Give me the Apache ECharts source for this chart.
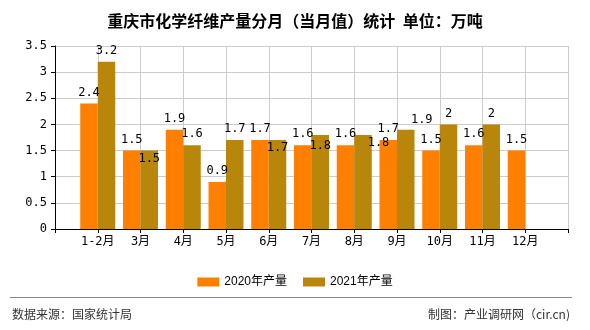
<!DOCTYPE html>
<html>
<head>
<meta charset="utf-8">
<script src="https://cdn.jsdelivr.net/npm/echarts@6/dist/echarts.min.js"></script>
<style>html,body{margin:0;padding:0;background:#fff}#c{width:590px;height:330px}</style>
</head>
<body>
<div id="c"></div>
<script>
// ---- data ----
var categories = ['1-2月','3月','4月','5月','6月','7月','8月','9月','10月','11月','12月'];
var series2020 = [2.4,1.5,1.9,0.9,1.7,1.6,1.6,1.7,1.5,1.6,1.5];
var series2021 = [3.2,1.5,1.6,1.7,1.7,1.8,1.8,1.9,2,2,null];
var seriesNames = ['2020年产量','2021年产量'];
var yTicks = [0,0.5,1,1.5,2,2.5,3,3.5];
var titleText = '重庆市化学纤维产量分月（当月值）统计  单位：万吨';
var sourceText = '数据来源：国家统计局';
var makerText = '制图：产业调研网（cir.cn)';

// ---- styles / label adjustments (by category index, 2021 series) ----
var insideLabels2021 = {1: true, 4: true};
var movedLabels2021 = {5: [0, 22], 6: [15.5, 19], 7: [16, 1]};

var monoFont = "'DejaVu Sans Mono','Noto Sans CJK SC',monospace";
var cats = [''].concat(categories, ['']);
function pad(arr){ return [null].concat(arr, [null]); }

var d2021 = pad(series2021).map(function(v, i){
  var ci = i - 1;
  if (insideLabels2021[ci]) return {value: v, label: {position: 'insideTop', distance: 2}};
  return v;
});

var chart = echarts.init(document.getElementById('c'));
chart.setOption({
  animation: false,
  backgroundColor: '#fff',
  title: {
    text: titleText, left: 'center', top: 8,
    textStyle: {fontSize: 16, fontWeight: 'bold', color: '#000', fontFamily: "'Noto Sans CJK SC'"}
  },
  legend: {
    data: seriesNames, left: 'center', top: 271,
    itemWidth: 22, itemHeight: 9, itemGap: 16,
    icon: 'rect',
    textStyle: {fontSize: 12, color: '#000', fontFamily: "'Liberation Sans','Noto Sans CJK SC'"}
  },
  grid: {left: 55, right: 22, top: 46, bottom: 101},
  xAxis: {
    type: 'category', data: cats, boundaryGap: false,
    axisLine: {lineStyle: {color: '#000', width: 1}},
    axisTick: {show: true, length: 4, interval: 0, lineStyle: {color: '#000'}},
    axisLabel: {interval: 0, margin: 7, color: '#000', fontSize: 12, fontFamily: monoFont},
    splitLine: {show: true, interval: 0, lineStyle: {color: '#cccccc', width: 1}}
  },
  yAxis: {
    type: 'value', min: yTicks[0], max: yTicks[yTicks.length-1], interval: 0.5,
    axisLine: {show: true, lineStyle: {color: '#000', width: 1}},
    axisTick: {show: true, length: 4, lineStyle: {color: '#000'}},
    axisLabel: {margin: 8, color: '#000', fontSize: 12, fontFamily: monoFont},
    splitLine: {show: true, lineStyle: {color: '#cccccc', width: 1}}
  },
  series: [
    {
      name: seriesNames[0], type: 'bar', data: pad(series2020),
      barWidth: 17.5, barGap: '0%',
      itemStyle: {color: '#ff8000', borderWidth: 0},
      label: {show: true, position: 'top', distance: 5, color: '#000', fontSize: 12, fontFamily: monoFont}
    },
    {
      name: seriesNames[1], type: 'bar', data: d2021,
      barWidth: 17.5, barGap: '0%',
      itemStyle: {color: '#b8860b', borderWidth: 0},
      label: {show: true, position: 'top', distance: 5, color: '#000', fontSize: 12, fontFamily: monoFont},
      labelLayout: function(p){
        var m = movedLabels2021[p.dataIndex - 1];
        if (m) return {dx: m[0], dy: m[1]};
        return {};
      }
    }
  ],
  graphic: [
    {type: 'line', shape: {x1: 10, y1: 297.5, x2: 572, y2: 297.5}, style: {stroke: '#888', lineWidth: 1}},
    {type: 'text', left: 12, top: 308, style: {text: sourceText, fontSize: 12, fill: '#333', fontFamily: "'Noto Sans CJK SC'"}},
    {type: 'text', right: 20, top: 308, style: {text: makerText, fontSize: 12, fill: '#333', fontFamily: "'Noto Sans CJK SC'"}}
  ]
});
</script>
</body>
</html>
